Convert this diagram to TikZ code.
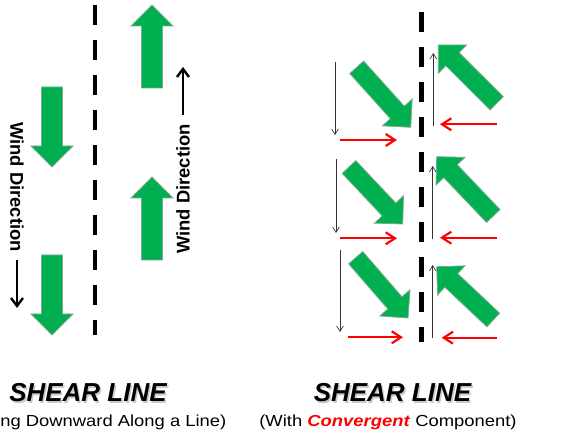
\documentclass[tikz,border=0pt]{standalone}
\usepackage{fontspec}
\setmainfont{Liberation Sans}
\usepackage{xcolor}
\usepackage{tikz}
\usetikzlibrary{arrows.meta, calc}
\definecolor{sheargreen}{HTML}{00B050}
\definecolor{shearedge}{HTML}{7FA98C}
\definecolor{shearred}{HTML}{FF0000}

\tikzset{
  windfill/.style={fill=sheargreen, draw=shearedge, line width=0.6pt, line join=miter},
  shearline/.style={line width=3pt, dash pattern=on 15pt off 11.25pt},
  dirarrow/.style={line width=1.8pt, -{Straight Barb[length=6pt, width=9pt]}},
  comparrow/.style={line width=0.5pt, draw=black!80, -{Straight Barb[length=4pt, width=5pt]}},
  redarrow/.style={line width=1.6pt, draw=shearred, -{Straight Barb[length=7pt, width=9pt]}},
  title/.style={font=\bfseries\itshape\fontsize{19.5}{22}\selectfont, inner sep=0pt, anchor=base},
  titleshadow/.style={title, text=black!35, opacity=0.6},
  subtitle/.style={font=\fontsize{12}{14}\selectfont, inner sep=0pt, anchor=base, xscale=1.15},
  winddir/.style={font=\bfseries\fontsize{13.8}{16}\selectfont, inner sep=0pt}
}

% block arrow: tail, tip, shaft half width, head half width
\newcommand{\windarrow}[4]{%
  \coordinate (hb) at ($(#2)!#4!(#1)$);
  \filldraw[windfill] ($(#1)!#3!90:(#2)$) -- ($(hb)!#3!90:(#2)$) -- ($(hb)!#4!90:(#2)$) -- (#2)
    -- ($(hb)!#4!-90:(#2)$) -- ($(hb)!#3!-90:(#2)$) -- ($(#1)!#3!-90:(#2)$) -- cycle;}

\begin{document}
\begin{tikzpicture}[x=0.75pt, y=-0.75pt]
    \useasboundingbox (0,0) rectangle (565,438);
    \clip (0,0) rectangle (565,438);

    % left: shear line
    \draw[shearline] (95,5) -- (95,335);
    \windarrow{52,87}{52,167}{7.9pt}{15.75pt}
    \windarrow{52,255}{52,335}{7.9pt}{15.75pt}
    \windarrow{152,88}{152,5}{7.9pt}{15.75pt}
    \windarrow{152,260}{152,177}{7.9pt}{15.75pt}

    \node[winddir, rotate=-90] (leftdir) at (17,187) {Wind Direction};
    \draw[dirarrow] (17,260) -- (17,308);
    \node[winddir, rotate=90] (rightdir) at (183,189) {Wind Direction};
    \draw[dirarrow] (183,115) -- (183,67);

    % right: shear line with convergence
    \draw[shearline, line width=3.75pt] (421.7,12) -- (421.7,342);
    \windarrow{356.7,67.3}{410.7,127.3}{7pt}{15pt}
    \windarrow{349,167}{402.7,224}{7pt}{15pt}
    \windarrow{355.7,257.7}{408,318}{7pt}{15pt}
    \windarrow{496.7,103.3}{438.3,45}{7pt}{15pt}
    \windarrow{493.3,216}{436.7,156.7}{7pt}{15pt}
    \windarrow{493.3,320}{436.7,266.7}{7pt}{15pt}

    % components
    \draw[comparrow] (335,62) -- (335,135);
    \draw[comparrow] (336,159) -- (336,233);
    \draw[comparrow] (340,250) -- (340,332);
    \draw[comparrow] (433.3,126) -- (433.3,53);
    \draw[comparrow] (432.7,239) -- (432.7,166);
    \draw[comparrow] (432.7,338) -- (432.7,265);

    \draw[redarrow] (340,140) -- (397,140);
    \draw[redarrow] (340,238.3) -- (397,238.3);
    \draw[redarrow] (348,337.3) -- (403,337.3);
    \draw[redarrow] (497,124.3) -- (440,124.3);
    \draw[redarrow] (497,237.7) -- (440,237.7);
    \draw[redarrow] (497,337.7) -- (441.7,337.7);

    % titles
    \node[titleshadow] (lefttitleshadow) at (89.5,403.2) {SHEAR LINE};
    \node[title] (lefttitle) at (88,401.7) {SHEAR LINE};
    \node[titleshadow] (righttitleshadow) at (394,403.2) {SHEAR LINE};
    \node[title] (righttitle) at (392.5,401.7) {SHEAR LINE};
    \node[subtitle, anchor=base west] (leftsub) at (0,427) {ng Downward Along a Line)};
    \node[subtitle] (rightsub) at (388,427) {(With \textcolor{shearred}{\textbf{\textit{Convergent}}} Component)};
\end{tikzpicture}
\end{document}
